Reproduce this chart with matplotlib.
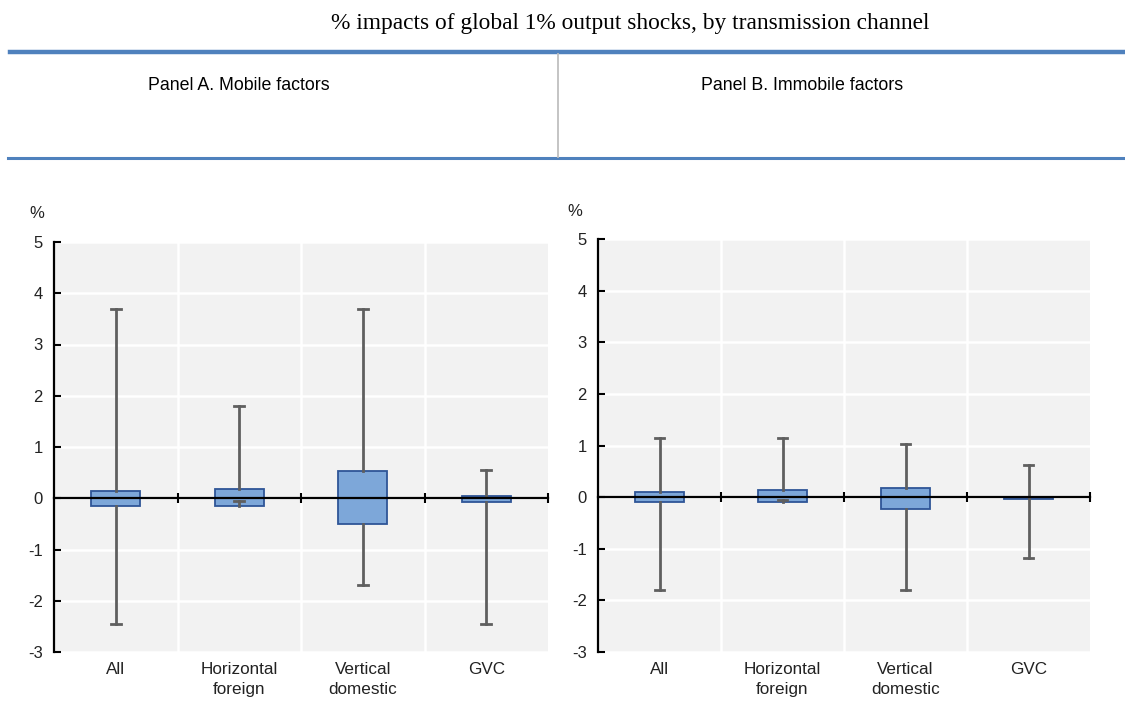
import matplotlib
matplotlib.use("Agg")
import matplotlib.pyplot as plt
from matplotlib.lines import Line2D

# ---------------- data ----------------
categories = ["All", "Horizontal\nforeign", "Vertical\ndomestic", "GVC"]

# Panel A. Mobile factors
a_whishi = [3.70, 1.80, 3.70, 0.55]
a_q3     = [0.15, 0.19, 0.54, 0.04]
a_med    = [0.00, 0.00, 0.00, 0.00]
a_q1     = [-0.15, -0.15, -0.50, -0.08]
a_whislo = [-2.45, -0.06, -1.70, -2.45]

# Panel B. Immobile factors
b_whishi = [1.15, 1.15, 1.03, 0.63]
b_q3     = [0.09, 0.14, 0.17, 0.00]
b_med    = [0.00, 0.00, 0.00, 0.00]
b_q1     = [-0.10, -0.10, -0.23, -0.03]
b_whislo = [-1.80, -0.06, -1.80, -1.18]

yticks = [5, 4, 3, 2, 1, 0, -1, -2, -3]
title = "% impacts of global 1% output shocks, by transmission channel"
panel_titles = ["Panel A. Mobile factors", "Panel B. Immobile factors"]

# ---------------- style ----------------
W, H = 1125, 704
fig = plt.figure(figsize=(W / 100, H / 100), dpi=100)
plt.rcParams["font.family"] = ["Liberation Sans", "DejaVu Sans"]

BLUE_RULE = "#4F81BD"
BOX_FACE = "#7DA7D9"
BOX_EDGE = "#2F5597"
WHISK = "#5F5F5F"
BG = "#F2F2F2"


def px(x0, y0, x1, y1):
    # convert pixel box (top-left origin) to figure fractions
    return [x0 / W, 1 - y1 / H, (x1 - x0) / W, (y1 - y0) / H]


# header
fig.text(630 / W, 1 - 23 / H, title, ha="center", va="center",
         fontsize=16.8, family=["Liberation Serif", "DejaVu Serif"])
fig.add_artist(Line2D([10 / W, 1], [1 - 52 / H] * 2, color=BLUE_RULE, lw=3.2,
                      transform=fig.transFigure))
fig.add_artist(Line2D([8 / W, 1], [1 - 158 / H] * 2, color=BLUE_RULE, lw=2.2,
                      transform=fig.transFigure))
fig.add_artist(Line2D([558 / W] * 2, [1 - 54 / H, 1 - 157 / H], color="#BFBFBF",
                      lw=1.3, transform=fig.transFigure))
fig.text(239 / W, 1 - 85 / H, panel_titles[0], ha="center", va="center", fontsize=12.8)
fig.text(802 / W, 1 - 85 / H, panel_titles[1], ha="center", va="center", fontsize=12.8)


def draw_panel(rect, whishi, q3, med, q1, whislo, pct_xy):
    ax = fig.add_axes(rect)
    ax.set_facecolor(BG)
    stats = []
    for i, lab in enumerate(categories):
        stats.append(dict(label=lab, whishi=whishi[i], q3=q3[i], med=med[i],
                          q1=q1[i], whislo=whislo[i], fliers=[]))
    pos = list(range(1, len(categories) + 1))
    ax.bxp(stats, positions=pos, widths=0.4, patch_artist=True,
           showfliers=False, capwidths=0.08,
           boxprops=dict(facecolor=BOX_FACE, edgecolor=BOX_EDGE, linewidth=1.3),
           whiskerprops=dict(color=WHISK, linewidth=2),
           capprops=dict(color=WHISK, linewidth=2),
           medianprops=dict(color=BOX_EDGE, linewidth=1.3))
    ax.set_xlim(0.5, len(categories) + 0.5)
    ax.set_ylim(-3, 5)
    ax.set_yticks(yticks)
    ax.set_yticklabels([str(t) for t in yticks])
    ax.set_xticks(pos)
    labs = ax.set_xticklabels(categories)
    for t in labs:
        t.set_linespacing(1.45)
    bounds = [p + 0.5 for p in pos[:-1]]
    ax.set_xticks(bounds, minor=True)
    ax.tick_params(axis="x", which="both", length=0, pad=7, labelsize=12.3,
                   labelcolor="#222222")
    ax.tick_params(axis="y", direction="in", length=5, width=1.5, pad=8,
                   labelsize=12, labelcolor="#222222")
    ax.grid(which="minor", axis="x", color="white", lw=1.8)
    ax.grid(which="major", axis="y", color="white", lw=1.8)
    ax.set_axisbelow(True)
    for s in ["top", "right", "bottom"]:
        ax.spines[s].set_visible(False)
    ax.spines["left"].set_linewidth(1.6)
    ax.spines["left"].set_color("black")
    # zero axis with tick marks at category boundaries
    sec = ax.secondary_xaxis(3 / 8)
    sec.set_xticks(bounds + [len(categories) + 0.5])
    sec.set_xticklabels([])
    sec.tick_params(direction="inout", length=7, width=1.5)
    sec.spines["bottom"].set_linewidth(1.6)
    sec.spines["bottom"].set_color("black")
    sec.set_zorder(5)
    fig.text(pct_xy[0] / W, 1 - pct_xy[1] / H, "%", ha="center", va="center",
             fontsize=12, color="#222222")
    return ax


draw_panel(px(54, 242, 548, 652), a_whishi, a_q3, a_med, a_q1, a_whislo, (37, 214))
draw_panel(px(598, 239, 1090, 652), b_whishi, b_q3, b_med, b_q1, b_whislo, (575, 212))

fig.savefig("out.png", dpi=100)
